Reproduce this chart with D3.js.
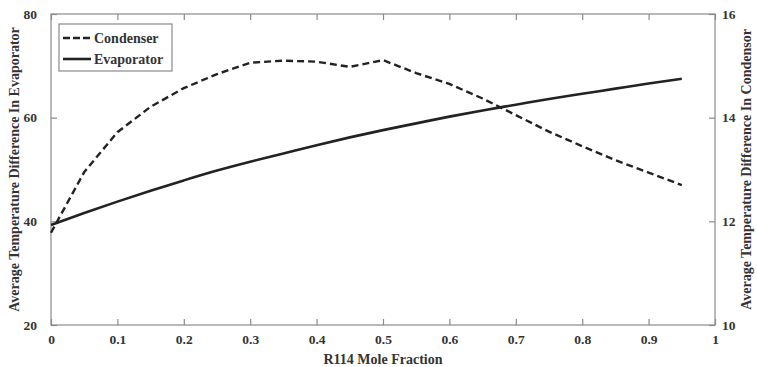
<!DOCTYPE html>
<html><head><meta charset="utf-8">
<script src="https://cdn.jsdelivr.net/npm/d3@7"></script>
<style>
html,body{margin:0;padding:0;background:#fff;}
text{font-family:"Liberation Serif","DejaVu Serif",serif;font-weight:bold;fill:#333;}
</style></head>
<body><svg id="c" width="757" height="367"></svg>
<script>
const xValues = [0,0.05,0.1,0.15,0.2,0.25,0.3,0.35,0.4,0.45,0.5,0.55,0.6,0.65,0.7,0.75,0.8,0.85,0.9,0.95];
const condenser = [11.78,12.95,13.72,14.21,14.57,14.84,15.06,15.10,15.08,14.98,15.11,14.86,14.65,14.37,14.05,13.73,13.45,13.18,12.94,12.70];
const evaporator = [39.3,41.6,43.8,45.9,47.9,49.8,51.5,53.1,54.7,56.2,57.6,58.9,60.2,61.4,62.5,63.6,64.6,65.6,66.6,67.5];
const xTicks = [0,0.1,0.2,0.3,0.4,0.5,0.6,0.7,0.8,0.9,1];
const leftTicks = [20,40,60,80];
const rightTicks = [10,12,14,16];

const svg = d3.select("#c");
const L=51, R=715, T=14, B=325;
const x = d3.scaleLinear().domain([0,1]).range([L,R]);
const yL = d3.scaleLinear().domain([20,80]).range([B,T]);
const yR = d3.scaleLinear().domain([10,16]).range([B,T]);
const axisCol = "#8a8a8a";
const fmt = d => String(d);

svg.append("rect").attr("x",L).attr("y",T).attr("width",R-L).attr("height",B-T)
  .attr("fill","none").attr("stroke",axisCol).attr("stroke-width",1.2);

function styleAxis(g){
  g.select(".domain").remove();
  g.selectAll(".tick line").attr("stroke",axisCol).attr("stroke-width",1.2);
  g.selectAll(".tick text").attr("font-size",13.5).attr("fill","#333");
}
svg.append("g").attr("transform",`translate(0,${B})`)
  .call(d3.axisBottom(x).tickValues(xTicks).tickFormat(fmt).tickSizeInner(-6).tickPadding(9))
  .call(styleAxis);
svg.append("g").attr("transform",`translate(0,${T})`)
  .call(d3.axisTop(x).tickValues(xTicks).tickFormat("").tickSizeInner(-6))
  .call(styleAxis);
svg.append("g").attr("transform",`translate(${L},0)`)
  .call(d3.axisLeft(yL).tickValues(leftTicks).tickFormat(fmt).tickSizeInner(-6).tickPadding(14))
  .call(styleAxis);
svg.append("g").attr("transform",`translate(${R},0)`)
  .call(d3.axisRight(yR).tickValues(rightTicks).tickFormat(fmt).tickSizeInner(-6).tickPadding(7))
  .call(styleAxis);

svg.append("text").attr("x",(L+R)/2).attr("y",364).attr("text-anchor","middle")
  .attr("font-size",14).text("R114 Mole Fraction");
svg.append("text").attr("transform",`translate(19,${(T+B)/2}) rotate(-90)`)
  .attr("text-anchor","middle").attr("font-size",14).text("Average Temperature Difference In Evaporator");
svg.append("text").attr("transform",`translate(751,${(T+B)/2}) rotate(-90)`)
  .attr("text-anchor","middle").attr("font-size",14).text("Average Temperature Difference In Condensor");

const lineC = d3.line().x((d,i)=>x(xValues[i])).y(d=>yR(d));
const lineE = d3.line().x((d,i)=>x(xValues[i])).y(d=>yL(d)).curve(d3.curveMonotoneX);
svg.append("path").datum(evaporator).attr("d",lineE).attr("fill","none")
  .attr("stroke","#222").attr("stroke-width",2.6);
svg.append("path").datum(condenser).attr("d",lineC).attr("fill","none")
  .attr("stroke","#222").attr("stroke-width",2.4).attr("stroke-dasharray","7,4");

const lg = svg.append("g");
lg.append("rect").attr("x",59).attr("y",24).attr("width",113).attr("height",47)
  .attr("fill","#fff").attr("stroke",axisCol).attr("stroke-width",1.2);
lg.append("line").attr("x1",63).attr("x2",91).attr("y1",38).attr("y2",38)
  .attr("stroke","#222").attr("stroke-width",2.4).attr("stroke-dasharray","7,3");
lg.append("line").attr("x1",63).attr("x2",91).attr("y1",59).attr("y2",59)
  .attr("stroke","#222").attr("stroke-width",2.6);
lg.append("text").attr("x",94).attr("y",43).attr("font-size",14).text("Condenser");
lg.append("text").attr("x",94).attr("y",64).attr("font-size",14).text("Evaporator");
</script></body></html>
